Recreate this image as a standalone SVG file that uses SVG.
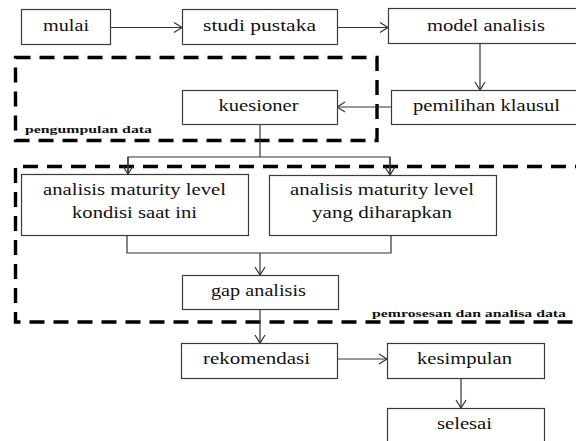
<svg xmlns="http://www.w3.org/2000/svg" width="576" height="441" viewBox="0 0 576 441" font-family="Liberation Serif, serif">
<style>
.box{fill:#fff;stroke:#3a3a3a;stroke-width:1.2}
.t{font-family:'Liberation Serif',serif;font-size:16.5px;fill:#111;text-anchor:middle}
.lbl{font-family:'Liberation Serif',serif;font-size:11px;font-weight:bold;fill:#111}
.c{fill:none;stroke:#333;stroke-width:1.2}
.grp{fill:none;stroke:#000;stroke-width:3.4;stroke-dasharray:15 9}
</style>
<defs>
<marker id="ah" markerUnits="userSpaceOnUse" markerWidth="12" markerHeight="14" refX="9" refY="6" orient="auto" viewBox="0 0 12 12">
<path d="M1,1 L9,6 L1,11" fill="none" stroke="#333" stroke-width="1.2"/>
</marker>
</defs>
<rect width="576" height="441" fill="#fff"/>
<g id="groups">
<rect class="grp" x="15.5" y="57.5" width="361.5" height="83"/>
<text class="lbl" x="25" y="133" textLength="127" lengthAdjust="spacingAndGlyphs">pengumpulan data</text>
<path class="grp" d="M590,166.5 H15.5 V322 H590"/>
<text class="lbl" x="372" y="317" textLength="194" lengthAdjust="spacingAndGlyphs">pemrosesan dan analisa data</text>
</g>
<g id="connectors">
<line class="c" x1="111" y1="27.5" x2="182" y2="27.5" marker-end="url(#ah)"/>
<line class="c" x1="337" y1="27.5" x2="388" y2="27.5" marker-end="url(#ah)"/>
<line class="c" x1="480" y1="43" x2="480" y2="90" marker-end="url(#ah)"/>
<line class="c" x1="391" y1="107" x2="337" y2="107" marker-end="url(#ah)"/>
<polyline class="c" points="260,124 260,157"/>
<polyline class="c" points="128,174 128,157 390,157 390,175"/>
<line class="c" x1="128" y1="157" x2="128" y2="174" marker-end="url(#ah)"/>
<line class="c" x1="390" y1="157" x2="390" y2="175" marker-end="url(#ah)"/>
<polyline class="c" points="127,235 127,253 391,253 391,235"/>
<line class="c" x1="260" y1="253" x2="260" y2="275" marker-end="url(#ah)"/>
<line class="c" x1="260" y1="309" x2="260" y2="343" marker-end="url(#ah)"/>
<line class="c" x1="337" y1="359" x2="387" y2="359" marker-end="url(#ah)"/>
<line class="c" x1="461" y1="378" x2="461" y2="408" marker-end="url(#ah)"/>
</g>
<g id="mulai"><rect class="box" x="21.5" y="9.5" width="89" height="35"/><text class="t" x="66" y="31" textLength="46" lengthAdjust="spacingAndGlyphs">mulai</text></g>
<g id="studi-pustaka"><rect class="box" x="182.5" y="9.5" width="155" height="35"/><text class="t" x="259.5" y="31" textLength="113" lengthAdjust="spacingAndGlyphs">studi pustaka</text></g>
<g id="model-analisis"><rect class="box" x="388.5" y="8.5" width="200" height="35"/><text class="t" x="486" y="31" textLength="118" lengthAdjust="spacingAndGlyphs">model analisis</text></g>
<g id="pemilihan-klausul"><rect class="box" x="391.5" y="90.5" width="200" height="34"/><text class="t" x="486.5" y="111" textLength="147" lengthAdjust="spacingAndGlyphs">pemilihan klausul</text></g>
<g id="kuesioner"><rect class="box" x="182.5" y="90.5" width="155" height="34"/><text class="t" x="258.5" y="111" textLength="80" lengthAdjust="spacingAndGlyphs">kuesioner</text></g>
<g id="analisis-kondisi"><rect class="box" x="21.5" y="174.5" width="227" height="61"/><text class="t" x="134.5" y="195" textLength="183" lengthAdjust="spacingAndGlyphs">analisis maturity level</text><text class="t" x="134.5" y="218" textLength="125" lengthAdjust="spacingAndGlyphs">kondisi saat ini</text></g>
<g id="analisis-harapan"><rect class="box" x="269.5" y="175.5" width="227" height="60"/><text class="t" x="382" y="195" textLength="184" lengthAdjust="spacingAndGlyphs">analisis maturity level</text><text class="t" x="382" y="218" textLength="140" lengthAdjust="spacingAndGlyphs">yang diharapkan</text></g>
<g id="gap-analisis"><rect class="box" x="182.5" y="275.5" width="156" height="34"/><text class="t" x="258.5" y="296" textLength="95" lengthAdjust="spacingAndGlyphs">gap analisis</text></g>
<g id="rekomendasi"><rect class="box" x="181.5" y="343.5" width="156" height="35"/><text class="t" x="256.5" y="364" textLength="107" lengthAdjust="spacingAndGlyphs">rekomendasi</text></g>
<g id="kesimpulan"><rect class="box" x="387.5" y="343.5" width="157" height="35"/><text class="t" x="464.5" y="364" textLength="95" lengthAdjust="spacingAndGlyphs">kesimpulan</text></g>
<g id="selesai"><rect class="box" x="387.5" y="408.5" width="157" height="40"/><text class="t" x="464.5" y="429" textLength="55" lengthAdjust="spacingAndGlyphs">selesai</text></g>
</svg>
